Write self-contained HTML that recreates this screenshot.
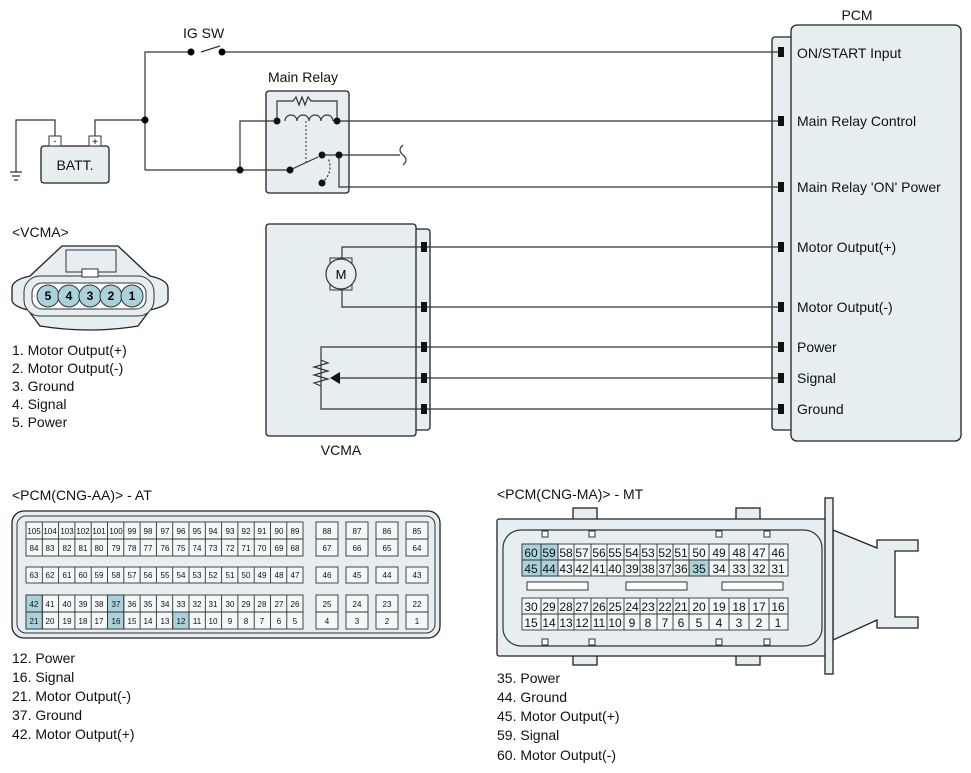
<!DOCTYPE html>
<html><head><meta charset="utf-8"><style>
body{margin:0;background:#fff}
svg{display:block;font-family:"Liberation Sans",sans-serif}
.f{fill:#e6eef1;stroke:#222;stroke-width:1.3}
.w{fill:none;stroke:#333;stroke-width:1.2}
.t{font-size:14px;fill:#111}
.a text{font-size:8px;text-anchor:middle;fill:#111}
.m text{font-size:12px;text-anchor:middle;fill:#111}
.c{fill:#f4f7f8;stroke:#333;stroke-width:0.9}
.h{fill:#a9d2dc;stroke:#333;stroke-width:0.9}
</style></head><body>
<svg width="971" height="773" viewBox="0 0 971 773">
<!-- PCM -->
<rect class="f" x="772" y="37" width="22" height="393" rx="3"/>
<rect class="f" x="791" y="25" width="170" height="416" rx="6"/>
<text class="t" x="857" y="20" text-anchor="middle">PCM</text>
<g fill="#111">
<rect x="778" y="47" width="6" height="10"/><rect x="778" y="116" width="6" height="10"/><rect x="778" y="182" width="6" height="10"/><rect x="778" y="242" width="6" height="10"/><rect x="778" y="302" width="6" height="10"/><rect x="778" y="342" width="6" height="10"/><rect x="778" y="373" width="6" height="10"/><rect x="778" y="404" width="6" height="10"/>
</g>
<g class="t">
<text x="797" y="58">ON/START Input</text><text x="797" y="126">Main Relay Control</text><text x="797" y="192">Main Relay 'ON' Power</text><text x="797" y="252">Motor Output(+)</text><text x="797" y="312">Motor Output(-)</text><text x="797" y="352">Power</text><text x="797" y="383">Signal</text><text x="797" y="414">Ground</text>
</g>
<!-- top circuit -->
<text class="t" x="183" y="38">IG SW</text>
<path class="w" d="M145 170V52H191M201 52L220 46M222 52H778"/>
<circle cx="191" cy="52" r="3.5"/><circle cx="222" cy="52" r="3.5"/>
<path class="w" d="M95 136V120H145M55 136V120H16V172"/>
<path class="w" d="M10 172H22M12 176H20M14 180H18"/>
<circle cx="145" cy="120" r="3.5"/>
<rect class="f" x="41" y="146" width="68" height="37" rx="3"/>
<rect x="49" y="136" width="12" height="10" fill="#fff" stroke="#333"/><rect x="89" y="136" width="12" height="10" fill="#fff" stroke="#333"/>
<text x="55" y="144" font-size="9" text-anchor="middle">-</text><text x="95" y="145" font-size="10" text-anchor="middle">+</text>
<text class="t" x="75" y="170" text-anchor="middle">BATT.</text>
<text class="t" x="268" y="82">Main Relay</text>
<rect class="f" x="266" y="91" width="83" height="102" rx="3"/>
<path class="w" d="M145 170H290M240 170V121H277M277 121V101H293l3-4 3 8 3-8 3 8 3-8 3 4H337V121M337 121H778"/>
<path class="w" d="M285 121a6 6 0 0 1 12 0a6 6 0 0 1 12 0a6 6 0 0 1 12 0a6 6 0 0 1 12 0"/>
<path d="M306 121V165" stroke="#333" stroke-dasharray="2 2"/>
<path class="w" d="M290 170L318 157M322 155H400M339 155V187H778"/>
<path class="w" d="M322 183Q334 172 328 158" stroke-dasharray="2 2"/>
<path class="w" d="M403 145q-6 5 0 10q6 5 0 10"/>
<g fill="#111"><circle cx="240" cy="170" r="3.5"/><circle cx="277" cy="121" r="3.5"/><circle cx="337" cy="121" r="3.5"/><circle cx="290" cy="170" r="3.5"/><circle cx="322" cy="155" r="3.5"/><circle cx="339" cy="155" r="3.5"/><circle cx="322" cy="183" r="3.5"/></g>
<!-- VCMA -->
<rect class="f" x="412" y="229" width="18" height="201" rx="3"/>
<rect class="f" x="266" y="224" width="150" height="212" rx="3"/>
<text class="t" x="341" y="455" text-anchor="middle">VCMA</text>
<path class="w" d="M342 258V247H778M342 290V307H778M778 347H321V409H778M340 378H778"/>
<rect x="330" y="258" width="22" height="32" fill="#e6eef1" stroke="#333"/>
<circle cx="341" cy="274" r="15" fill="#e6eef1" stroke="#333" stroke-width="1.2"/>
<text x="341" y="279" font-size="13" text-anchor="middle">M</text>
<path class="w" d="M321 360l7 3-14 4 14 4-14 4 14 4-14 4 7 3" fill="#e6eef1"/>
<path d="M330 378l10-6v12z" fill="#111"/>
<g fill="#111"><rect x="421" y="242" width="6" height="10"/><rect x="421" y="302" width="6" height="10"/><rect x="421" y="342" width="6" height="10"/><rect x="421" y="373" width="6" height="10"/><rect x="421" y="404" width="6" height="10"/></g>
<!-- VCMA connector -->
<text class="t" x="12" y="237">&lt;VCMA&gt;</text>
<path class="f" d="M12 288Q12 280 30 276L62 246H118L150 276Q168 280 168 288V300Q168 306 150 310L138 326Q90 334 40 326L28 310Q12 306 12 300z" stroke-width="1"/>
<rect x="66" y="250" width="50" height="22" fill="#e6eef1" stroke="#333"/>
<rect x="24" y="276" width="130" height="40" rx="16" fill="#e6eef1" stroke="#333"/>
<rect x="32" y="283" width="114" height="26" rx="10" fill="#fff" stroke="#333"/>
<rect x="82" y="269" width="16" height="8" fill="#fff" stroke="#333"/>
<g fill="#a9d2dc" stroke="#333"><circle cx="48" cy="296" r="11"/><circle cx="69" cy="296" r="11"/><circle cx="90" cy="296" r="11"/><circle cx="111" cy="296" r="11"/><circle cx="132" cy="296" r="11"/></g>
<g font-size="12" text-anchor="middle" font-weight="bold"><text x="48" y="300">5</text><text x="69" y="300">4</text><text x="90" y="300">3</text><text x="111" y="300">2</text><text x="132" y="300">1</text></g>
<g class="t"><text x="12" y="355">1. Motor Output(+)</text><text x="12" y="373">2. Motor Output(-)</text><text x="12" y="391">3. Ground</text><text x="12" y="409">4. Signal</text><text x="12" y="427">5. Power</text></g>
<!-- AT -->
<text class="t" x="12" y="500">&lt;PCM(CNG-AA)&gt; - AT</text>
<rect class="f" x="12" y="511" width="428" height="127" rx="12"/>
<rect x="17" y="516" width="418" height="117" rx="9" fill="none" stroke="#333"/>
<g class="a">
<g>
<rect class="c" x="26" y="522" width="277" height="34"/><rect class="c" x="26" y="567" width="277" height="16"/><rect class="c" x="26" y="595" width="277" height="34"/>
<rect class="h" x="26" y="595" width="16.3" height="34"/><rect class="h" x="107.5" y="595" width="16.3" height="34"/><rect class="h" x="172.7" y="612" width="16.3" height="17"/>
<path stroke="#333" stroke-width="0.9" d="M26 539H303M26 612H303M42.3 522v34M58.6 522v34M74.9 522v34M91.2 522v34M107.5 522v34M123.8 522v34M140.1 522v34M156.4 522v34M172.7 522v34M189 522v34M205.3 522v34M221.6 522v34M237.9 522v34M254.2 522v34M270.5 522v34M286.8 522v34M42.3 567v16M58.6 567v16M74.9 567v16M91.2 567v16M107.5 567v16M123.8 567v16M140.1 567v16M156.4 567v16M172.7 567v16M189 567v16M205.3 567v16M221.6 567v16M237.9 567v16M254.2 567v16M270.5 567v16M286.8 567v16M42.3 595v34M58.6 595v34M74.9 595v34M91.2 595v34M107.5 595v34M123.8 595v34M140.1 595v34M156.4 595v34M172.7 595v34M189 595v34M205.3 595v34M221.6 595v34M237.9 595v34M254.2 595v34M270.5 595v34M286.8 595v34"/>
</g>
<g><rect class="c" x="316" y="522" width="22" height="34"/><rect class="c" x="346" y="522" width="22" height="34"/><rect class="c" x="376" y="522" width="22" height="34"/><rect class="c" x="406" y="522" width="22" height="34"/>
<rect class="c" x="316" y="567" width="22" height="16"/><rect class="c" x="346" y="567" width="22" height="16"/><rect class="c" x="376" y="567" width="22" height="16"/><rect class="c" x="406" y="567" width="22" height="16"/>
<rect class="c" x="316" y="595" width="22" height="34"/><rect class="c" x="346" y="595" width="22" height="34"/><rect class="c" x="376" y="595" width="22" height="34"/><rect class="c" x="406" y="595" width="22" height="34"/>
<path stroke="#333" stroke-width="0.9" d="M316 539h22M346 539h22M376 539h22M406 539h22M316 612h22M346 612h22M376 612h22M406 612h22"/></g>
<text x="34" y="534">105</text><text x="50" y="534">104</text><text x="67" y="534">103</text><text x="83" y="534">102</text><text x="99" y="534">101</text><text x="116" y="534">100</text><text x="132" y="534">99</text><text x="148" y="534">98</text><text x="165" y="534">97</text><text x="181" y="534">96</text><text x="197" y="534">95</text><text x="213" y="534">94</text><text x="230" y="534">93</text><text x="246" y="534">92</text><text x="262" y="534">91</text><text x="279" y="534">90</text><text x="295" y="534">89</text>
<text x="34" y="551">84</text><text x="50" y="551">83</text><text x="67" y="551">82</text><text x="83" y="551">81</text><text x="99" y="551">80</text><text x="116" y="551">79</text><text x="132" y="551">78</text><text x="148" y="551">77</text><text x="165" y="551">76</text><text x="181" y="551">75</text><text x="197" y="551">74</text><text x="213" y="551">73</text><text x="230" y="551">72</text><text x="246" y="551">71</text><text x="262" y="551">70</text><text x="279" y="551">69</text><text x="295" y="551">68</text>
<text x="34" y="578">63</text><text x="50" y="578">62</text><text x="67" y="578">61</text><text x="83" y="578">60</text><text x="99" y="578">59</text><text x="116" y="578">58</text><text x="132" y="578">57</text><text x="148" y="578">56</text><text x="165" y="578">55</text><text x="181" y="578">54</text><text x="197" y="578">53</text><text x="213" y="578">52</text><text x="230" y="578">51</text><text x="246" y="578">50</text><text x="262" y="578">49</text><text x="279" y="578">48</text><text x="295" y="578">47</text>
<text x="34" y="607">42</text><text x="50" y="607">41</text><text x="67" y="607">40</text><text x="83" y="607">39</text><text x="99" y="607">38</text><text x="116" y="607">37</text><text x="132" y="607">36</text><text x="148" y="607">35</text><text x="165" y="607">34</text><text x="181" y="607">33</text><text x="197" y="607">32</text><text x="213" y="607">31</text><text x="230" y="607">30</text><text x="246" y="607">29</text><text x="262" y="607">28</text><text x="279" y="607">27</text><text x="295" y="607">26</text>
<text x="34" y="624">21</text><text x="50" y="624">20</text><text x="67" y="624">19</text><text x="83" y="624">18</text><text x="99" y="624">17</text><text x="116" y="624">16</text><text x="132" y="624">15</text><text x="148" y="624">14</text><text x="165" y="624">13</text><text x="181" y="624">12</text><text x="197" y="624">11</text><text x="213" y="624">10</text><text x="230" y="624">9</text><text x="246" y="624">8</text><text x="262" y="624">7</text><text x="279" y="624">6</text><text x="295" y="624">5</text>
<text x="327" y="534">88</text><text x="357" y="534">87</text><text x="387" y="534">86</text><text x="417" y="534">85</text>
<text x="327" y="551">67</text><text x="357" y="551">66</text><text x="387" y="551">65</text><text x="417" y="551">64</text>
<text x="327" y="578">46</text><text x="357" y="578">45</text><text x="387" y="578">44</text><text x="417" y="578">43</text>
<text x="327" y="607">25</text><text x="357" y="607">24</text><text x="387" y="607">23</text><text x="417" y="607">22</text>
<text x="327" y="624">4</text><text x="357" y="624">3</text><text x="387" y="624">2</text><text x="417" y="624">1</text>
</g>
<g class="t"><text x="12" y="663">12. Power</text><text x="12" y="682">16. Signal</text><text x="12" y="701">21. Motor Output(-)</text><text x="12" y="720">37. Ground</text><text x="12" y="739">42. Motor Output(+)</text></g>
<!-- MT -->
<text class="t" x="497" y="499">&lt;PCM(CNG-MA)&gt; - MT</text>
<path class="f" d="M833 530L877 548V540H918V551H895V617H918V628H877V620L833 640z" stroke-width="1"/>
<rect class="f" x="573" y="508" width="24" height="14"/><rect class="f" x="736" y="508" width="24" height="14"/>
<rect class="f" x="573" y="651" width="24" height="14"/><rect class="f" x="736" y="651" width="24" height="14"/>
<rect class="f" x="497" y="519" width="329" height="137" rx="2"/>
<rect x="503" y="530" width="319" height="116" rx="18" fill="#e6eef1" stroke="#333" stroke-width="1.2"/>
<rect class="f" x="825" y="498" width="8" height="176"/>
<g fill="#fff" stroke="#333"><rect x="542" y="531" width="6" height="6"/><rect x="589" y="531" width="6" height="6"/><rect x="716" y="531" width="6" height="6"/><rect x="764" y="531" width="6" height="6"/><rect x="542" y="639" width="6" height="6"/><rect x="589" y="639" width="6" height="6"/><rect x="716" y="639" width="6" height="6"/><rect x="764" y="639" width="6" height="6"/>
<rect x="527" y="582" width="61" height="8"/><rect x="626" y="582" width="61" height="8"/><rect x="722" y="582" width="61" height="8"/></g>
<g class="m">
<rect class="c" x="522" y="544" width="266" height="32"/><rect class="c" x="522" y="598" width="266" height="32"/>
<rect class="h" x="522" y="544" width="19" height="32"/><rect class="h" x="541" y="544" width="17" height="16"/><rect class="h" x="541" y="560" width="17" height="16"/><rect class="h" x="689" y="560" width="20" height="16"/>
<path stroke="#333" stroke-width="0.9" d="M522 560H788M522 614H788M541 544v32M558 544v32M574 544v32M591 544v32M607 544v32M624 544v32M640 544v32M657 544v32M673 544v32M689 544v32M709 544v32M729 544v32M749 544v32M769 544v32M541 598v32M558 598v32M574 598v32M591 598v32M607 598v32M624 598v32M640 598v32M657 598v32M673 598v32M689 598v32M709 598v32M729 598v32M749 598v32M769 598v32"/>
<text x="531" y="557">60</text><text x="549" y="557">59</text><text x="566" y="557">58</text><text x="582" y="557">57</text><text x="599" y="557">56</text><text x="615" y="557">55</text><text x="632" y="557">54</text><text x="648" y="557">53</text><text x="665" y="557">52</text><text x="681" y="557">51</text><text x="699" y="557">50</text><text x="719" y="557">49</text><text x="739" y="557">48</text><text x="759" y="557">47</text><text x="778" y="557">46</text>
<text x="531" y="573">45</text><text x="549" y="573">44</text><text x="566" y="573">43</text><text x="582" y="573">42</text><text x="599" y="573">41</text><text x="615" y="573">40</text><text x="632" y="573">39</text><text x="648" y="573">38</text><text x="665" y="573">37</text><text x="681" y="573">36</text><text x="699" y="573">35</text><text x="719" y="573">34</text><text x="739" y="573">33</text><text x="759" y="573">32</text><text x="778" y="573">31</text>
<text x="531" y="611">30</text><text x="549" y="611">29</text><text x="566" y="611">28</text><text x="582" y="611">27</text><text x="599" y="611">26</text><text x="615" y="611">25</text><text x="632" y="611">24</text><text x="648" y="611">23</text><text x="665" y="611">22</text><text x="681" y="611">21</text><text x="699" y="611">20</text><text x="719" y="611">19</text><text x="739" y="611">18</text><text x="759" y="611">17</text><text x="778" y="611">16</text>
<text x="531" y="627">15</text><text x="549" y="627">14</text><text x="566" y="627">13</text><text x="582" y="627">12</text><text x="599" y="627">11</text><text x="615" y="627">10</text><text x="632" y="627">9</text><text x="648" y="627">8</text><text x="665" y="627">7</text><text x="681" y="627">6</text><text x="699" y="627">5</text><text x="719" y="627">4</text><text x="739" y="627">3</text><text x="759" y="627">2</text><text x="778" y="627">1</text>
</g>
<g class="t"><text x="497" y="683">35. Power</text><text x="497" y="702">44. Ground</text><text x="497" y="721">45. Motor Output(+)</text><text x="497" y="740">59. Signal</text><text x="497" y="760">60. Motor Output(-)</text></g>
</svg>
</body></html>
